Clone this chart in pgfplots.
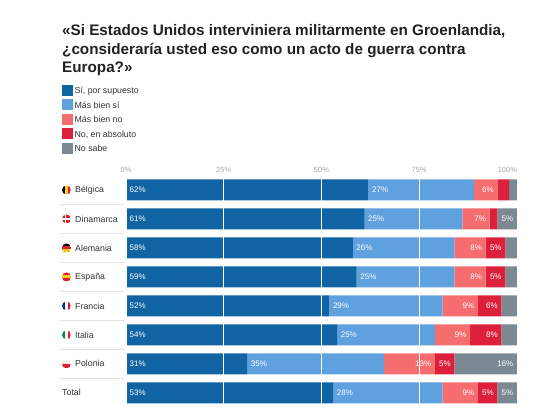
\documentclass[border=0pt]{standalone}
\usepackage{pgfplots}
\usepackage{pgfplotstable}
\pgfplotsset{compat=1.18}
\usepackage{fontspec}
\setmainfont{Liberation Sans}
\definecolor{c1}{RGB}{16,100,163}
\definecolor{c2}{RGB}{95,160,222}
\definecolor{c3}{RGB}{246,109,111}
\definecolor{c4}{RGB}{220,32,60}
\definecolor{c5}{RGB}{124,136,146}
\definecolor{titlec}{RGB}{33,33,33}
\definecolor{labc}{RGB}{51,51,51}
\definecolor{tickc}{RGB}{165,165,165}
\definecolor{sepc}{RGB}{225,225,225}
\definecolor{fyel}{RGB}{250,210,30}
\definecolor{fred}{RGB}{225,30,45}
\definecolor{fgold}{RGB}{255,200,0}
\definecolor{fblue}{RGB}{0,50,150}
\definecolor{fgreen}{RGB}{0,140,70}

% segment values per country (percent)
\pgfplotstableread{
idx s1 s2 s3 s4 s5
0 62 27 6 3 2
1 61 25 7 2 5
2 58 26 8 5 3
3 59 25 8 5 3
4 52 29 9 6 4
5 54 25 9 8 4
6 31 35 13 5 16
7 53 28 9 5 5
}\data
% labels set at the left edge of their segment
\pgfplotstableread{
x idx v
0 0 62
62 0 27
0 1 61
61 1 25
0 2 58
58 2 26
0 3 59
59 3 25
0 4 52
52 4 29
0 5 54
54 5 25
0 6 31
31 6 35
0 7 53
53 7 28
}\labL
% labels set at the right edge of their segment
\pgfplotstableread{
x idx v
95 0 6
93 1 7
100 1 5
92 2 8
97 2 5
92 3 8
97 3 5
90 4 9
96 4 6
88 5 9
96 5 8
79 6 13
84 6 5
100 6 16
90 7 9
95 7 5
100 7 5
}\labR

\newcommand{\vflag}[4]{%
 \begin{scope}[shift={([xshift=-59.5pt]axis cs:0,#1)}]\clip (0pt,0pt) circle (4.5pt);
 \fill[#2] (-4.5pt,-4.5pt) rectangle (-1.5pt,4.5pt);
 \fill[#3] (-1.5pt,-4.5pt) rectangle (1.5pt,4.5pt);
 \fill[#4] (1.5pt,-4.5pt) rectangle (4.5pt,4.5pt);\end{scope}}
\newcommand{\hflag}[5]{%
 \begin{scope}[shift={([xshift=-59.5pt]axis cs:0,#1)}]\clip (0pt,0pt) circle (4.5pt);
 \fill[#2] (-4.5pt,-4.5pt) rectangle (4.5pt,4.5pt);
 \fill[#3] (-4.5pt,-#5) rectangle (4.5pt,#5);
 \fill[#4] (-4.5pt,-4.5pt) rectangle (4.5pt,-1.5pt);\end{scope}}

\begin{document}
\begin{tikzpicture}
\useasboundingbox (0pt,0pt) rectangle (560pt,416pt);
\node[anchor=base west, inner sep=0pt, text=titlec, font=\fontsize{15.25}{18}\selectfont\bfseries] at (62pt,380pt) {«Si Estados Unidos interviniera militarmente en Groenlandia,};
\node[anchor=base west, inner sep=0pt, text=titlec, font=\fontsize{15.25}{18}\selectfont\bfseries] at (62pt,361.5pt) {¿consideraría usted eso como un acto de guerra contra};
\node[anchor=base west, inner sep=0pt, text=titlec, font=\fontsize{15.25}{18}\selectfont\bfseries] at (62pt,343pt) {Europa?»};
\begin{axis}[
 at={(126pt,240.5pt)}, anchor=north west,
 scale only axis, width=391pt, height=231.8pt,
 xbar stacked, bar width=21pt,
 xmin=0, xmax=100, ymin=-0.5, ymax=7.5, y dir=reverse,
 axis line style={draw=none}, major tick length=0pt,
 xtick={0,25,50,75,100},
 xticklabels={0\%,25\%,50\%,75\%,\makebox[0pt][r]{100\%}},
 xticklabel pos=upper,
 xticklabel style={text=tickc, font=\fontsize{7.5}{8}\selectfont, inner sep=0pt, yshift=3pt},
 xmajorgrids, grid style={white, line width=0.8pt},
 axis on top,
 ytick={0,...,7},
 yticklabels={{\hspace*{13pt}Bélgica},{\hspace*{13pt}Dinamarca},{\hspace*{13pt}Alemania},{\hspace*{13pt}España},{\hspace*{13pt}Francia},{\hspace*{13pt}Italia},{\hspace*{13pt}Polonia},{Total}},
 yticklabel style={anchor=west, inner sep=0pt, xshift=-64pt, text=labc, font=\fontsize{8.8}{10}\selectfont},
 clip=false,
 legend style={at={(-0.1637,1.3925)}, anchor=north west, draw=none, fill=none, inner sep=0pt,
   font=\fontsize{8.8}{10}\selectfont, text=labc, row sep=3.6pt,
   nodes={inner ysep=0pt, inner xsep=2pt, text height=6.5pt, text depth=2pt}},
 legend cell align=left,
]
\addlegendimage{legend image code/.code={\fill[c1] (0pt,-3.5pt) rectangle (10pt,6.5pt);}}
\addlegendentry{Sí, por supuesto}
\addlegendimage{legend image code/.code={\fill[c2] (0pt,-3.5pt) rectangle (10pt,6.5pt);}}
\addlegendentry{Más bien sí}
\addlegendimage{legend image code/.code={\fill[c3] (0pt,-3.5pt) rectangle (10pt,6.5pt);}}
\addlegendentry{Más bien no}
\addlegendimage{legend image code/.code={\fill[c4] (0pt,-3.5pt) rectangle (10pt,6.5pt);}}
\addlegendentry{No, en absoluto}
\addlegendimage{legend image code/.code={\fill[c5] (0pt,-3.5pt) rectangle (10pt,6.5pt);}}
\addlegendentry{No sabe}
\addplot[fill=c1, draw=none, forget plot] table[x=s1, y=idx]{\data};
\addplot[fill=c2, draw=none, forget plot] table[x=s2, y=idx]{\data};
\addplot[fill=c3, draw=none, forget plot] table[x=s3, y=idx]{\data};
\addplot[fill=c4, draw=none, forget plot] table[x=s4, y=idx]{\data};
\addplot[fill=c5, draw=none, forget plot] table[x=s5, y=idx]{\data};
\draw[sepc] ([xshift=-2pt]axis cs:0,0.5) -- ([xshift=-66pt]axis cs:0,0.5);
\draw[sepc] ([xshift=-2pt]axis cs:0,1.5) -- ([xshift=-66pt]axis cs:0,1.5);
\draw[sepc] ([xshift=-2pt]axis cs:0,2.5) -- ([xshift=-66pt]axis cs:0,2.5);
\draw[sepc] ([xshift=-2pt]axis cs:0,3.5) -- ([xshift=-66pt]axis cs:0,3.5);
\draw[sepc] ([xshift=-2pt]axis cs:0,4.5) -- ([xshift=-66pt]axis cs:0,4.5);
\draw[sepc] ([xshift=-2pt]axis cs:0,5.5) -- ([xshift=-66pt]axis cs:0,5.5);
\draw[sepc] ([xshift=-2pt]axis cs:0,6.5) -- ([xshift=-66pt]axis cs:0,6.5);
\end{axis}
\begin{axis}[
 at={(126pt,240.5pt)}, anchor=north west,
 scale only axis, width=391pt, height=231.8pt,
 xmin=0, xmax=100, ymin=-0.5, ymax=7.5, y dir=reverse,
 hide axis, clip=false,
 /pgf/number format/assume math mode=true,
]
\addplot[draw=none, mark=none, point meta=explicit, nodes near coords={\pgfmathprintnumber{\pgfplotspointmeta}\%},
  every node near coord/.append style={anchor=west, inner sep=0pt, text=white, font=\fontsize{8}{9}\selectfont, xshift=3.5pt, yshift=0pt}]
  table[x=x, y=idx, meta=v]{\labL};
\addplot[draw=none, mark=none, point meta=explicit, nodes near coords={\pgfmathprintnumber{\pgfplotspointmeta}\%},
  every node near coord/.append style={anchor=east, inner sep=0pt, text=white, font=\fontsize{8}{9}\selectfont, xshift=-3.5pt, yshift=0pt}]
  table[x=x, y=idx, meta=v]{\labR};
\vflag{0}{black}{fyel}{fred}
\begin{scope}[shift={([xshift=-59.5pt]axis cs:0,1)}]\clip (0pt,0pt) circle (4.5pt);
 \fill[fred] (-4.5pt,-4.5pt) rectangle (4.5pt,4.5pt);
 \fill[white] (-4.5pt,-0.8pt) rectangle (4.5pt,0.8pt);
 \fill[white] (-1.9pt,-4.5pt) rectangle (-0.3pt,4.5pt);\end{scope}
\hflag{2}{black}{fred}{fgold}{1.5pt}
\hflag{3}{fred}{fyel}{fred}{2.2pt}
\vflag{4}{fblue}{white}{fred}
\vflag{5}{fgreen}{white}{fred}
\begin{scope}[shift={([xshift=-59.5pt]axis cs:0,6)}]\clip (0pt,0pt) circle (4.5pt);
 \fill[white!93!black] (-4.5pt,0pt) rectangle (4.5pt,4.5pt);
 \fill[fred] (-4.5pt,-4.5pt) rectangle (4.5pt,0pt);\end{scope}
\end{axis}
\end{tikzpicture}
\end{document}
